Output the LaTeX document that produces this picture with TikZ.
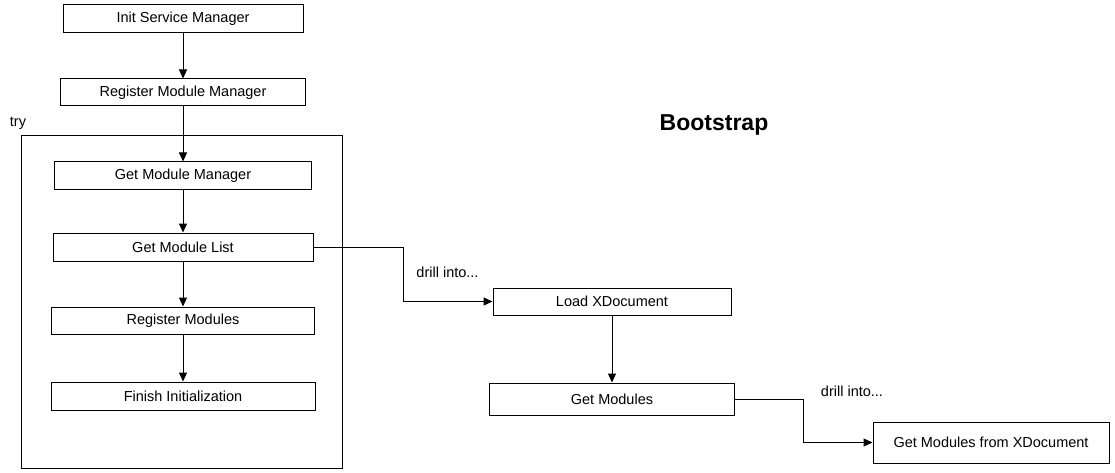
\documentclass[tikz,border=0pt]{standalone}
\usepackage{fontspec}
\setmainfont{Liberation Sans}
\usetikzlibrary{arrows.meta}
\begin{document}
\begin{tikzpicture}[x=1pt,y=-1pt,
  box/.style={draw=black,line width=1pt,fill=white,inner sep=0pt,font=\fontsize{14.5}{16}\selectfont},
  arr/.style={draw=black,line width=1pt,-{Triangle[length=9pt,width=8pt]}},
  lbl/.style={font=\fontsize{14.5}{16}\selectfont,inner sep=0pt}]
\useasboundingbox (0,0) rectangle (1115,473);
\node[draw=black,line width=1pt,minimum width=321pt,minimum height=332pt,inner sep=0pt] (try) at (182,302) {};
\node[lbl] (trylbl) at (18,123) {try};
\node[box,minimum width=240pt,minimum height=28pt] (init) at (183,19) {Init Service Manager};
\node[box,minimum width=245pt,minimum height=27pt] (reg) at (183,92.5) {Register Module Manager};
\node[box,minimum width=257pt,minimum height=27pt] (gmm) at (183,175.5) {Get Module Manager};
\node[box,minimum width=260pt,minimum height=28pt] (gml) at (183,247) {Get Module List};
\node[box,minimum width=263pt,minimum height=27pt] (rm) at (183,320.5) {Register Modules};
\node[box,minimum width=264pt,minimum height=28pt] (fi) at (183,396) {Finish Initialization};
\node[box,minimum width=238pt,minimum height=27pt] (load) at (612,301.5) {Load XDocument};
\node[box,minimum width=245pt,minimum height=32pt] (gm) at (612,399) {Get Modules};
\node[box,minimum width=236pt,minimum height=41pt] (gmx) at (991,442.5) {Get Modules from XDocument};
\node[font=\fontsize{23}{26}\selectfont\bfseries,inner sep=0pt] (title) at (714,125) {Bootstrap};
\node[lbl] (d1) at (447.5,272) {drill into...};
\node[lbl] (d2) at (852,391) {drill into...};
\coordinate (c1) at (403,247);
\coordinate (c2) at (803,399);
\draw[arr] (init) -- (reg);
\draw[arr] (reg) -- (gmm);
\draw[arr] (gmm) -- (gml);
\draw[arr] (gml) -- (rm);
\draw[arr] (rm) -- (fi);
\draw[arr] (load) -- (gm);
\draw[arr] (gml.east) -- (c1) |- (load.west);
\draw[arr] (gm.east) -- (c2) |- (gmx.west);
\end{tikzpicture}
\end{document}
